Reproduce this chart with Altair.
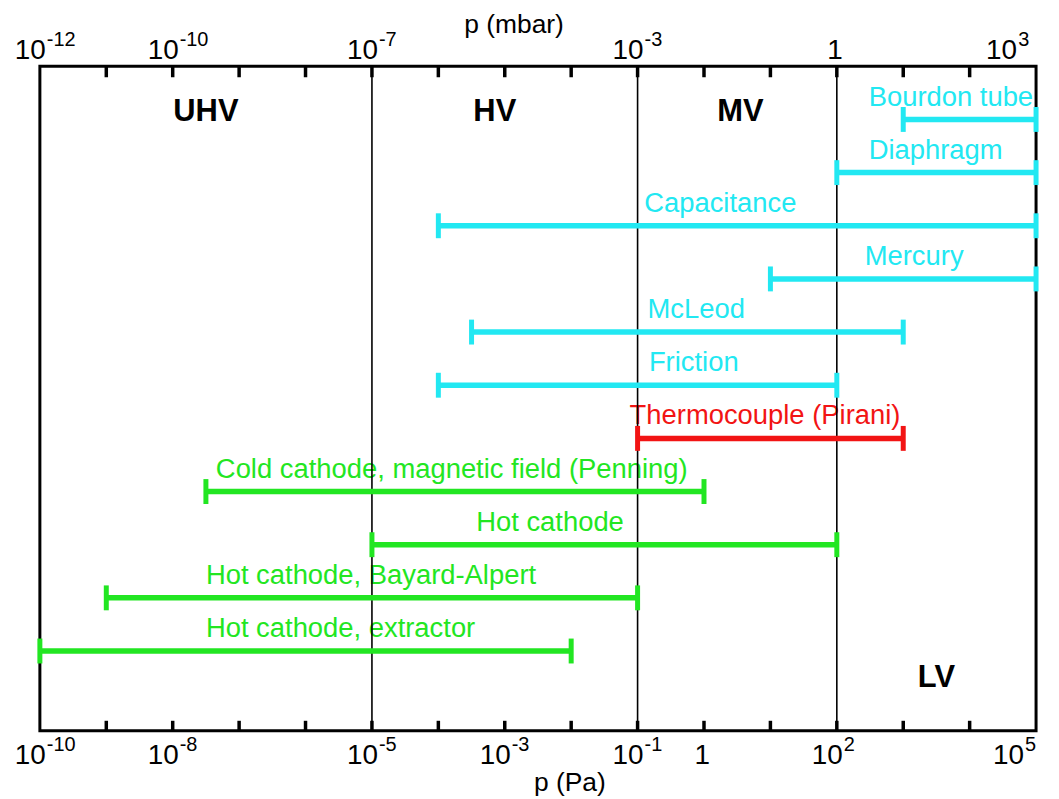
import altair as alt
import pandas as pd

# ---------------- data ----------------
gauges = [
    "Bourdon tube", "Diaphragm", "Capacitance", "Mercury", "McLeod", "Friction",
    "Thermocouple (Pirani)", "Cold cathode, magnetic field (Penning)", "Hot cathode",
    "Hot cathode, Bayard-Alpert", "Hot cathode, extractor",
]
p_min_pa = [1e3, 1e2, 1e-4, 1e1, 10 ** -3.5, 1e-4, 1e-1, 10 ** -7.5, 1e-5, 1e-9, 1e-10]
p_max_pa = [1e5, 1e5, 1e5, 1e5, 1e3, 1e2, 1e3, 1e0, 1e2, 1e-1, 1e-2]
gauge_kind = ["mechanical"] * 6 + ["thermal"] + ["ionization"] * 4
label_from_pa = [10 ** 2.48, 10 ** 2.48, 10 ** -0.9, 10 ** 2.42, 10 ** -0.85, 10 ** -0.83,
                 10 ** -1.12, 10 ** -7.35, 10 ** -3.43, 10 ** -7.5, 10 ** -7.5]

regions = ["UHV", "HV", "MV", "LV"]
region_at_pa = [10 ** -7.5, 10 ** -3.15, 10 ** 0.55, 10 ** 3.5]
region_row = [0.03, 0.03, 0.03, 10.68]

boundaries_pa = [1e-5, 1e-1, 1e2]
decade_exps = list(range(-9, 5))

pa_label_exp = [-10, -8, -5, -3, -1, 0, 2, 5]
mbar_label_exp = [-12, -10, -7, -3, 0, 3]

# ---------------- tables ----------------
bars = pd.DataFrame({
    "gauge": gauges, "lo": p_min_pa, "hi": p_max_pa, "kind": gauge_kind,
    "label_at": label_from_pa, "row": list(range(len(gauges))),
})
reg = pd.DataFrame({"region": regions, "at": region_at_pa, "row": region_row})
bnd = pd.DataFrame({"p": boundaries_pa})
dec = pd.DataFrame({"p": [10.0 ** e for e in decade_exps]})


def label_table(exps, shift):
    return pd.DataFrame({
        "pos": [10.0 ** (e + shift) for e in exps],
        "base": ["1" if e == 0 else "10" for e in exps],
        "sup": ["" if e == 0 else str(e) for e in exps],
    })


bottom_lbl = label_table(pa_label_exp, 0)
top_lbl = label_table(mbar_label_exp, 2)  # 1 mbar = 100 Pa

CYAN, RED, GREEN = "#22E8F2", "#F21414", "#22E622"
FONT = "Liberation Sans"
W, H = 1000, 667

xs = alt.Scale(type="log", domain=[1e-10, 1e5], nice=False)
ys = alt.Scale(domain=[-1, 11.5], reverse=True, nice=False, zero=False)
col = alt.Color("kind:N", scale=alt.Scale(domain=["mechanical", "thermal", "ionization"],
                                          range=[CYAN, RED, GREEN]), legend=None)

X = lambda f: alt.X(f, type="quantitative", scale=xs, axis=None)
Y = lambda f: alt.Y(f, type="quantitative", scale=ys, axis=None)

bar_text = alt.Chart(bars).mark_text(
    align="left", baseline="alphabetic", dy=-14, fontSize=27.5, font=FONT
).encode(x=X("label_at"), y=Y("row"), text="gauge:N", color=col)

bound_lines = alt.Chart(bnd).mark_rule(color="black", strokeWidth=1.6).encode(x=X("p"))

bottom_ticks = alt.Chart(dec).mark_rule(color="black", strokeWidth=3.5).encode(
    x=X("p"), y=alt.value(H), y2=alt.value(H - 10))
top_ticks = alt.Chart(dec).mark_rule(color="black", strokeWidth=3.5).encode(
    x=X("p"), y=alt.value(0), y2=alt.value(11))

bar_lines = alt.Chart(bars).mark_rule(strokeWidth=5.5).encode(
    x=X("lo"), x2="hi", y=Y("row"), color=col)
cap_lo = alt.Chart(bars).mark_rule(strokeWidth=5, yOffset=-12.5, y2Offset=12.5).encode(
    x=X("lo"), y=Y("row"), y2="row", color=col)
cap_hi = alt.Chart(bars).mark_rule(strokeWidth=5, yOffset=-12.5, y2Offset=12.5).encode(
    x=X("hi"), y=Y("row"), y2="row", color=col)

region_text = alt.Chart(reg).mark_text(
    baseline="alphabetic", fontSize=31, fontWeight="bold", font=FONT, color="black"
).encode(x=X("at"), y=Y("row"), text="region:N")


def tick_labels(df, y_base, dx_in, dx_edge):
    out = []
    for cond, dx in (("datum.pos < 99999", dx_in), ("datum.pos >= 99999", dx_edge)):
        base = alt.Chart(df).transform_filter(cond).mark_text(
            align="right", baseline="alphabetic", dx=dx, fontSize=28, font=FONT, color="black"
        ).encode(x=X("pos"), y=alt.value(y_base), text="base:N")
        sup = alt.Chart(df).transform_filter(cond).mark_text(
            align="left", baseline="alphabetic", dx=dx + 1, fontSize=20, font=FONT, color="black"
        ).encode(x=X("pos"), y=alt.value(y_base - 13), text="sup:N")
        out += [base, sup]
    return out


title_df = pd.DataFrame({"t": ["p (mbar)"]})
title_df2 = pd.DataFrame({"t": ["p (Pa)"]})
top_title = alt.Chart(title_df).mark_text(
    align="center", baseline="alphabetic", fontSize=26.5, font=FONT, color="black"
).encode(text="t:N", x=alt.value(476), y=alt.value(-33))
bottom_title = alt.Chart(title_df2).mark_text(
    align="center", baseline="alphabetic", fontSize=26.5, font=FONT, color="black"
).encode(text="t:N", x=alt.value(532), y=alt.value(727))

layers = [bar_text, bound_lines, bottom_ticks, top_ticks, bar_lines, cap_lo, cap_hi,
          region_text, top_title, bottom_title]
layers += tick_labels(bottom_lbl, H + 33, 6, -12)
layers += tick_labels(top_lbl, -7, 6, -19)

chart = alt.layer(*layers).properties(
    width=W, height=H,
    padding={"left": 32, "top": 57, "right": 15, "bottom": 67},
    autosize=alt.AutoSizeParams(type="none"),
    background="white",
).configure_view(stroke="black", strokeWidth=3)

chart.save("out.html", embed_options={"renderer": "svg", "actions": False})
